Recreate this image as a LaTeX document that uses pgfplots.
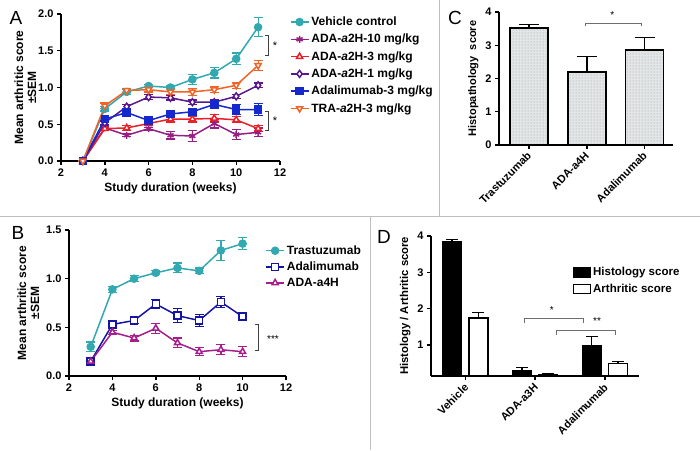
\documentclass[border=0pt]{standalone}
\usepackage{fontspec}
\setmainfont{Liberation Sans}
\usepackage{pgfplots}
\pgfplotsset{compat=1.18}
\usetikzlibrary{patterns}

\definecolor{cveh}{RGB}{50,168,176}
\definecolor{cten}{RGB}{150,30,130}
\definecolor{cthree}{RGB}{232,32,40}
\definecolor{cone}{RGB}{88,24,140}
\definecolor{cadal}{RGB}{20,40,205}
\definecolor{ctra}{RGB}{240,100,40}
\definecolor{cnavy}{RGB}{20,20,165}
\definecolor{cmag}{RGB}{165,30,140}
\definecolor{cbar}{RGB}{226,230,230}
\definecolor{cdiv}{RGB}{190,190,190}
\definecolor{cbrk}{RGB}{110,110,110}

\newcommand{\tfont}{\fontsize{11}{12}\selectfont\bfseries}
\newcommand{\lfont}{\fontsize{12}{13}\selectfont\bfseries}

\pgfplotsset{
  panel/.style={
    scale only axis, clip=false,
    axis lines*=left,
    axis line style={line width=1.6pt},
    major tick style={line width=1.4pt, black},
    tick align=outside, major tick length=4pt,
    tick label style={font=\tfont},
    label style={font=\lfont},
    /pgf/number format/assume math mode=true,
  },
  serie/.style={line width=1.5pt, mark size=3.5pt,
    error bars/.cd, y dir=both, y explicit,
    error bar style={line width=1.2pt},
    error mark options={rotate=90, line width=1.2pt, mark size=4.5pt}},
  linelegend/.style={legend image code/.code={%
    \draw[mark repeat=2,mark phase=2] plot coordinates {(0pt,0pt) (9pt,0pt) (18pt,0pt)};}},
  barleg/.style={legend image code/.code={%
    \draw[#1, line width=1.5pt] (0pt,-4.5pt) rectangle (17pt,4.5pt);}},
  barerr/.style={error bars/.cd, y dir=plus, y explicit,
    error bar style={line width=1.4pt, black},
    error mark options={rotate=90, line width=1.4pt, mark size=#1, black}},
}

\begin{document}
\begin{tikzpicture}[x=1pt,y=1pt]
\useasboundingbox (0,0) rectangle (700,450);

% dividers
\draw[cdiv, line width=1pt] (439,450) -- (439,233);
\draw[cdiv, line width=1pt] (0,233) -- (700,233);
\draw[cdiv, line width=1pt] (370.5,233) -- (370.5,0);

% panel letters
\node[font=\fontsize{19}{20}\selectfont] at (16,432) {A};
\node[font=\fontsize{19}{20}\selectfont] at (18,217) {B};
\node[font=\fontsize{19}{20}\selectfont] at (455,432) {C};
\node[font=\fontsize{19}{20}\selectfont] at (384,213) {D};

% ---------------- A
\begin{axis}[panel, at={(61pt,289pt)}, anchor=south west, width=219pt, height=147pt,
  xmin=2, xmax=12, ymin=0, ymax=2, xtick={2,4,6,8,10,12}, ytick={0,0.5,1,1.5,2},
  yticklabel style={/pgf/number format/.cd, fixed, fixed zerofill, precision=1},
  xlabel={Study duration (weeks)},
  ylabel={Mean arthritic score\\±SEM}, ylabel style={align=center}, ylabel shift=-5pt,
  linelegend, legend cell align=left,
  legend style={at={(1.044,0.995)}, anchor=north west, draw=none, fill=none,
    font=\fontsize{12}{14}\selectfont\bfseries, row sep=3.1pt, inner sep=0pt}]
\addplot[color=cveh, mark=*, serie] coordinates {
 (3,0)+-(0,0) (4,0.71)+-(0,0.03) (5,0.94)+-(0,0.03) (6,1.02)+-(0,0.02) (7,1.00)+-(0,0.02)
 (8,1.11)+-(0,0.07) (9,1.20)+-(0,0.07) (10,1.39)+-(0,0.08) (11,1.82)+-(0,0.13)};
\addplot[color=cten, mark=asterisk, mark size=4pt, serie] coordinates {
 (3,0)+-(0,0) (4,0.45)+-(0,0.02) (5,0.35)+-(0,0.02) (6,0.44)+-(0,0.02) (7,0.35)+-(0,0.05)
 (8,0.34)+-(0,0.08) (9,0.51)+-(0,0.06) (10,0.36)+-(0,0.07) (11,0.39)+-(0,0.06)};
\addplot[color=cthree, mark=triangle*, mark options={fill=white}, serie] coordinates {
 (3,0)+-(0,0) (4,0.44)+-(0,0.02) (5,0.45)+-(0,0.03) (6,0.51)+-(0,0.03) (7,0.57)+-(0,0.04)
 (8,0.57)+-(0,0.04) (9,0.58)+-(0,0.05) (10,0.56)+-(0,0.04) (11,0.44)+-(0,0.04)};
\addplot[color=cone, mark=diamond*, mark options={fill=white}, serie] coordinates {
 (3,0)+-(0,0) (4,0.52)+-(0,0.03) (5,0.74)+-(0,0.03) (6,0.87)+-(0,0.03) (7,0.86)+-(0,0.03)
 (8,0.80)+-(0,0.03) (9,0.80)+-(0,0.03) (10,0.88)+-(0,0.03) (11,1.03)+-(0,0.03)};
\addplot[color=cadal, mark=square*, mark size=3.2pt, serie] coordinates {
 (3,0)+-(0,0) (4,0.57)+-(0,0.03) (5,0.66)+-(0,0.03) (6,0.55)+-(0,0.03) (7,0.64)+-(0,0.04)
 (8,0.67)+-(0,0.04) (9,0.77)+-(0,0.05) (10,0.70)+-(0,0.07) (11,0.70)+-(0,0.08)};
\addplot[color=ctra, mark=triangle*, mark options={fill=white, rotate=180}, serie] coordinates {
 (3,0)+-(0,0) (4,0.75)+-(0,0.04) (5,0.96)+-(0,0.03) (6,0.97)+-(0,0.03) (7,0.94)+-(0,0.03)
 (8,0.94)+-(0,0.05) (9,0.97)+-(0,0.04) (10,1.03)+-(0,0.04) (11,1.30)+-(0,0.07)};
\legend{Vehicle control, ADA-\textit{a}2H-10 mg/kg, ADA-\textit{a}2H-3 mg/kg,
  ADA-\textit{a}2H-1 mg/kg, Adalimumab-3 mg/kg, TRA-\textit{a}2H-3 mg/kg}
\draw[black!75, line width=0.9pt] (axis cs:11.31,1.71) -- (axis cs:11.45,1.71) -- (axis cs:11.45,1.43) -- (axis cs:11.31,1.43);
\node[font=\fontsize{11}{12}\selectfont] at (axis cs:11.77,1.57) {*};
\draw[black!75, line width=0.9pt] (axis cs:11.31,0.68) -- (axis cs:11.45,0.68) -- (axis cs:11.45,0.42) -- (axis cs:11.31,0.42);
\node[font=\fontsize{11}{12}\selectfont] at (axis cs:11.77,0.55) {*};
\end{axis}

% ---------------- B
\begin{axis}[panel, at={(69pt,74pt)}, anchor=south west, width=217pt, height=146pt,
  xmin=2, xmax=12, ymin=0, ymax=1.5, xtick={2,4,6,8,10,12}, ytick={0,0.5,1,1.5},
  yticklabel style={/pgf/number format/.cd, fixed, fixed zerofill, precision=1},
  xlabel={Study duration (weeks)},
  ylabel={Mean arthritic score\\±SEM}, ylabel style={align=center},
  linelegend, legend cell align=left,
  legend style={at={(0.904,0.908)}, anchor=north west, draw=none, fill=none,
    font=\fontsize{12}{14}\selectfont\bfseries, row sep=2pt, inner sep=0pt}]
\addplot[color=cveh, mark=*, serie] coordinates {
 (3,0.30)+-(0,0.05) (4,0.89)+-(0,0.03) (5,1.00)+-(0,0.03) (6,1.06)+-(0,0.02)
 (7,1.11)+-(0,0.05) (8,1.08)+-(0,0.03) (9,1.29)+-(0,0.10) (10,1.36)+-(0,0.06)};
\addplot[color=cnavy, mark=square*, mark size=3.6pt, mark options={fill=white}, serie] coordinates {
 (3,0.15)+-(0,0.02) (4,0.53)+-(0,0.03) (5,0.57)+-(0,0.03) (6,0.74)+-(0,0.05)
 (7,0.62)+-(0,0.07) (8,0.57)+-(0,0.06) (9,0.76)+-(0,0.06) (10,0.61)+-(0,0.04)};
\addplot[color=cmag, mark=triangle*, mark options={fill=white}, serie] coordinates {
 (3,0.15)+-(0,0.02) (4,0.45)+-(0,0.02) (5,0.39)+-(0,0.03) (6,0.49)+-(0,0.05)
 (7,0.34)+-(0,0.05) (8,0.25)+-(0,0.04) (9,0.27)+-(0,0.05) (10,0.25)+-(0,0.05)};
\legend{Trastuzumab, Adalimumab, ADA-a4H}
\draw[black!75, line width=0.9pt] (axis cs:10.57,0.527) -- (axis cs:10.71,0.527) -- (axis cs:10.71,0.264) -- (axis cs:10.57,0.264);
\node[font=\fontsize{10}{11}\selectfont] at (axis cs:11.4,0.38) {***};
\end{axis}

% ---------------- C
\begin{axis}[panel, at={(499pt,305pt)}, anchor=south west, width=174pt, height=133pt,
  xmin=-0.52, xmax=2.49, ymin=0, ymax=4, ytick={0,1,2,3,4},
  xtick={0,1,2}, xticklabels={Trastuzumab, ADA-a4H, Adalimumab},
  xticklabel style={yshift=-4pt, xshift=1pt, rotate=45, anchor=east, inner sep=1pt},
  ylabel={Histopathology\ \ score}, ylabel style={font=\fontsize{11}{12}\selectfont\bfseries}]
\addplot[ybar, bar width=38pt, draw=black, line width=1.6pt, fill=cbar,
  postaction={pattern=dots, pattern color=gray!80}, barerr=10pt]
  coordinates {(0,3.52)+-(0,0.11) (1,2.19)+-(0,0.47) (2,2.85)+-(0,0.38)};
\draw[cbrk, line width=0.9pt] (axis cs:0.97,3.57) -- (axis cs:0.97,3.67) -- (axis cs:1.95,3.67) -- (axis cs:1.95,3.57);
\node[font=\fontsize{10}{11}\selectfont] at (axis cs:1.44,3.92) {*};
\end{axis}

% ---------------- D  (pairs drawn 0.187 category units either side of each tick)
\begin{axis}[panel, at={(431pt,74.3pt)}, anchor=south west, width=208pt, height=139.7pt,
  xmin=-0.49, xmax=2.49, ymin=0.155, ymax=4, ytick={1,2,3,4},
  xtick={0,1,2}, xticklabels={Vehicle, ADA-a3H, Adalimumab},
  xticklabel style={yshift=-5pt, xshift=2pt, rotate=45, anchor=east, inner sep=1pt},
  ylabel={Histology / Arthritic score}, ylabel style={font=\fontsize{11.3}{12}\selectfont\bfseries},
  legend cell align=left,
  legend style={at={(0.68,0.79)}, anchor=north west, draw=none, fill=none,
    font=\fontsize{11.5}{13}\selectfont\bfseries, row sep=2.5pt, inner sep=0pt}]
\addplot[ybar, bar width=19pt, bar shift=0pt, draw=black, line width=1.5pt, fill=black, barleg, barerr=6pt]
  coordinates {(-0.187,3.83)+-(0,0.08) (0.813,0.30)+-(0,0.08) (1.813,0.98)+-(0,0.26)};
\addplot[ybar, bar width=19pt, bar shift=0pt, draw=black, line width=1.5pt, fill=white, barleg, barerr=6pt]
  coordinates {(0.187,1.74)+-(0,0.16) (1.187,0.19)+-(0,0.02) (2.187,0.49)+-(0,0.05)};
\legend{Histology score, Arthritic score}
\draw[cbrk, line width=0.9pt] (axis cs:0.85,1.61) -- (axis cs:0.85,1.74) -- (axis cs:1.69,1.74) -- (axis cs:1.69,1.61);
\node[font=\fontsize{10}{11}\selectfont] at (axis cs:1.24,1.95) {*};
\draw[cbrk, line width=0.9pt] (axis cs:1.31,1.28) -- (axis cs:1.31,1.41) -- (axis cs:2.15,1.41) -- (axis cs:2.15,1.28);
\node[font=\fontsize{10}{11}\selectfont] at (axis cs:1.89,1.65) {**};
\end{axis}
\end{tikzpicture}
\end{document}
